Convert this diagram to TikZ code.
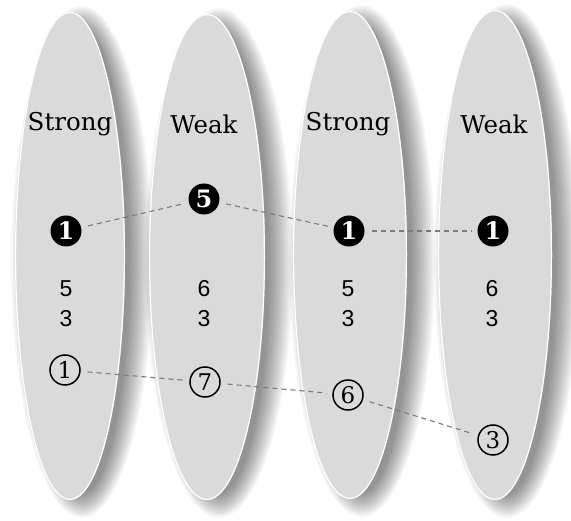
\documentclass[tikz,border=0pt]{standalone}
\usepackage{fontspec}
\setmainfont{DejaVu Serif}
\newfontfamily\digitfont{Liberation Sans}
\definecolor{leaffill}{HTML}{DADADA}
\definecolor{linkgray}{HTML}{7A7A7A}
\newcommand\leafshape[4]{%
  \foreach \k in {0,...,15}{%
    \pgfmathsetmacro\ra{#3+16-1.6*\k}%
    \pgfmathsetmacro\rb{#4+12-1.6*\k}%
    \fill[black,opacity=0.03] (#1+12,#2+6) ellipse [x radius=\ra, y radius=\rb];
  }%
  \fill[leaffill] (#1,#2) ellipse [x radius=#3, y radius=#4];
  \draw[white,line width=1.2pt] (#1,#2) ellipse [x radius=#3-0.6, y radius=#4-0.6];
}
\begin{document}
\begin{tikzpicture}[x=1pt,y=-1pt,
  lab/.style={font=\fontsize{24.5}{24.5}\selectfont, text=black},
  num/.style={font=\digitfont\fontsize{23}{23}\selectfont, text=black},
  blk/.style={circle, fill=black, text=white, inner sep=0pt, minimum size=31pt,
    font=\bfseries\fontsize{24}{24}\selectfont},
  ring/.style={circle, draw=black, line width=1.5pt, inner sep=0pt, minimum size=30pt,
    font=\fontsize{23}{23}\selectfont},
  link/.style={draw=linkgray, dash pattern=on 5pt off 4pt, line width=1.1pt,
    shorten <=7pt, shorten >=6pt}]
\useasboundingbox (0,0) rectangle (571,521);
\fill[white] (0,0) rectangle (571,521);
\leafshape{70}{256}{55}{244}
\leafshape{207}{257}{58}{243}
\leafshape{350}{255}{57}{244}
\leafshape{495}{255}{57}{245}

\node[lab] (l1) at (70,124) {Strong};
\node[lab] (l2) at (204,124) {Weak};
\node[lab] (l3) at (348,124) {Strong};
\node[lab] (l4) at (494,124) {Weak};

\node[blk] (a1) at (66,231) {1};
\node[blk] (a2) at (204,199) {5};
\node[blk] (a3) at (349,231) {1};
\node[blk] (a4) at (493,231) {1};

\node[num] (p1) at (66,289) {5};
\node[num] (q1) at (66,319) {3};
\node[num] (p2) at (204,289) {6};
\node[num] (q2) at (204,319) {3};
\node[num] (p3) at (348,289) {5};
\node[num] (q3) at (348,319) {3};
\node[num] (p4) at (492,289) {6};
\node[num] (q4) at (492,319) {3};

\node[ring] (c1) at (65,370) {1};
\node[ring] (c2) at (205,382) {7};
\node[ring] (c3) at (348,395) {6};
\node[ring] (c4) at (493,440) {3};

\draw[link] (a1) -- (a2);
\draw[link] (a2) -- (a3);
\draw[link] (a3) -- (a4);
\draw[link] (c1) -- (c2);
\draw[link] (c2) -- (c3);
\draw[link] (c3) -- (c4);
\end{tikzpicture}
\end{document}
